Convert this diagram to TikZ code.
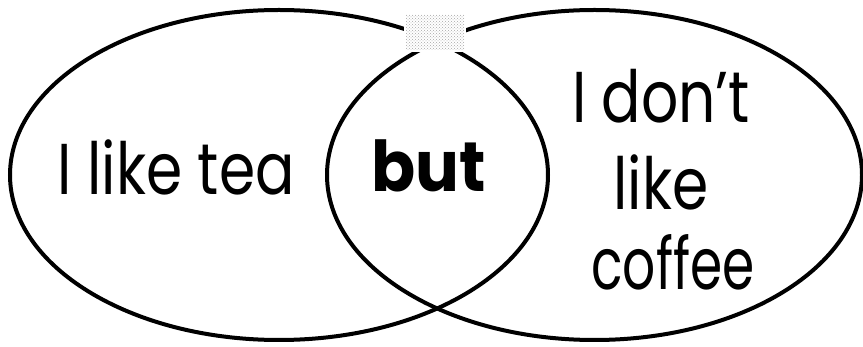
\documentclass[tikz,border=0pt]{standalone}
\usepackage{fontspec}
\setmainfont{Poppins}[FakeStretch=0.81, BoldFeatures={FakeStretch=0.93}]
\newfontfamily\coffeefont{Poppins}[FakeStretch=0.72]
\usetikzlibrary{positioning, shapes.geometric, patterns}
\tikzset{
  % Venn circle
  venn/.style={
    ellipse, draw=black, line width=4pt, inner sep=0pt
  },
  % Label text
  label text/.style={
    font=\fontsize{72}{83}\selectfont, align=center, text=black, inner sep=0pt
  },
}

\begin{document}
\begin{tikzpicture}[x=1pt, y=-1pt]
  \useasboundingbox (0,0) rectangle (863,347);
  \node[venn, minimum width=538pt, minimum height=330pt] (tea) at (279,175) {};
  \node[venn, minimum width=535pt, minimum height=330pt] (coffee) at (594.5,175) {};
  % scan speck at the top crossing
  \fill[white] (404,12) rectangle (466,52);
  \fill[pattern=crosshatch dots, pattern color=black!35] (406,15) rectangle (464,50);
  \node[label text, anchor=base] (like) at (176,195) {I like tea};
  \node[label text, anchor=base, font=\fontsize{70}{83}\selectfont\bfseries] (but) at (429,192) {but};
  \node[label text, anchor=base] (dont) at (661,123) {I don’t};
  \node[label text, anchor=base] (like2) at (661,210) {like};
  \node[label text, anchor=base, font=\fontsize{72}{83}\selectfont\coffeefont] (cof) at (673,290) {coffee};
\end{tikzpicture}
\end{document}
